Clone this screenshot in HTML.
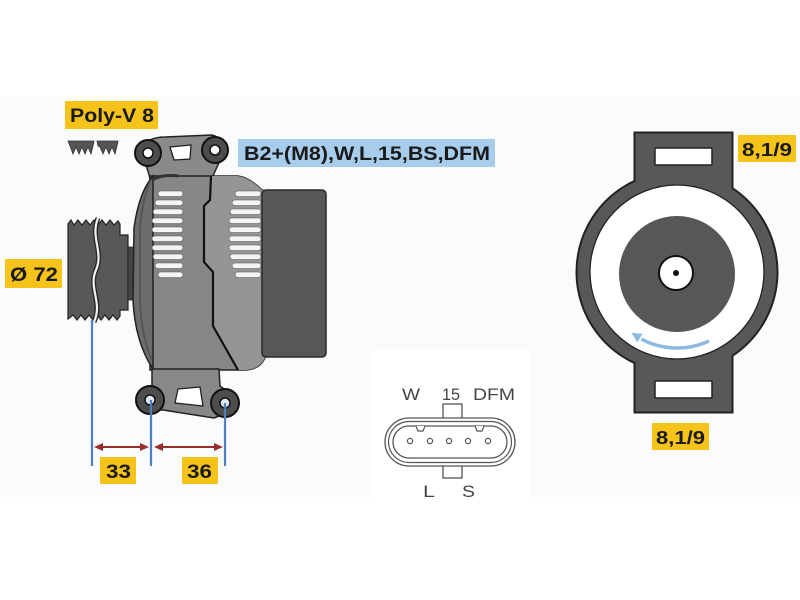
<!DOCTYPE html>
<html><head><meta charset="utf-8">
<style>
html,body{margin:0;padding:0;background:#fff;}
svg{display:block;}
.lb{font-family:"Liberation Sans",Arial,sans-serif;font-weight:bold;fill:#1a1a1a;}
.ln{font-family:"Liberation Sans",Arial,sans-serif;fill:#444;}
</style></head>
<body>
<svg width="800" height="600" viewBox="0 0 800 600" xmlns="http://www.w3.org/2000/svg">
<rect x="0" y="0" width="800" height="600" fill="#ffffff"/>
<rect x="0" y="97" width="800" height="400" fill="#fafbfc"/>
<rect x="372" y="350" width="158" height="150" fill="#ffffff"/>

<!-- Labels -->
<rect x="65" y="101" width="93" height="28" fill="#f6c31b"/>
<text class="lb" x="70" y="122" font-size="19" textLength="84" lengthAdjust="spacingAndGlyphs">Poly-V 8</text>

<rect x="238" y="139" width="257" height="28" fill="#a8cdec"/>
<text class="lb" x="244" y="160" font-size="19" textLength="246" lengthAdjust="spacingAndGlyphs">B2+(M8),W,L,15,BS,DFM</text>

<rect x="5" y="259" width="57" height="29" fill="#f6c31b"/>
<text class="lb" x="10" y="281" font-size="19" textLength="48" lengthAdjust="spacingAndGlyphs">Ø 72</text>

<rect x="100" y="457" width="36" height="27" fill="#f6c31b"/>
<text class="lb" x="106" y="478" font-size="19" textLength="25" lengthAdjust="spacingAndGlyphs">33</text>
<rect x="182" y="457" width="36" height="27" fill="#f6c31b"/>
<text class="lb" x="187" y="478" font-size="19" textLength="25" lengthAdjust="spacingAndGlyphs">36</text>

<rect x="738" y="135" width="58" height="27" fill="#f6c31b"/>
<text class="lb" x="742" y="156" font-size="18" textLength="50" lengthAdjust="spacingAndGlyphs">8,1/9</text>
<rect x="652" y="423" width="57" height="27" fill="#f6c31b"/>
<text class="lb" x="656" y="444" font-size="18" textLength="49" lengthAdjust="spacingAndGlyphs">8,1/9</text>

<!-- Poly-V belt icons -->
<path d="M68,141 L94,141 L93,146 L91,154 L88,147 L85,154 L82,147 L79,154 L76,147 L73,154 L70,146 Z" fill="#555" stroke="#333" stroke-width="0.8"/>
<path d="M97,141 L118,141 L117,146 L115,154 L112,147 L109,154 L106,147 L103,154 L100,147 L98,146 Z" fill="#555" stroke="#333" stroke-width="0.8"/>

<!-- Pulley -->
<path d="M68,224 L71,220 L74,225 L78,220 L82,225 L86,220 L90,225 L94,220 L98,225 L102,220 L106,225 L110,220 L114,225 L118,221 L120,224 L120,235 L128,235 L128,310 L120,310 L120,316 L117,320 L113,315 L109,320 L105,315 L101,320 L97,315 L93,320 L89,315 L85,320 L81,315 L77,320 L73,315 L68,319 Z" fill="#585858" stroke="#222" stroke-width="1.2"/>
<rect x="128" y="247" width="6" height="53" fill="#454545" stroke="#222" stroke-width="0.8"/>
<path d="M98,218 C90,238 104,252 96,270 C88,288 103,302 94,322" fill="none" stroke="#2a2a2a" stroke-width="5"/>
<path d="M98,218 C90,238 104,252 96,270 C88,288 103,302 94,322" fill="none" stroke="#f2f2f2" stroke-width="2.2"/>

<!-- Top bracket -->
<path d="M141,148 Q148,137 165,137 L212,135 Q224,138 222,156 L212,178 L150,178 Z" fill="#8a8a8a" stroke="#222" stroke-width="1.5"/>
<path d="M170,147 L191,145 L190,159 L174,160 Z" fill="#fff" stroke="#222" stroke-width="1.3"/>

<!-- Main body -->
<path d="M150,176 L238,176 Q250,178 262,190 L267,192 L267,345 Q267,369 245,370 L150,370 Z" fill="#878787" stroke="#222" stroke-width="1.5"/>
<path d="M212,176 L238,176 Q250,178 262,190 L267,192 L267,345 Q267,369 245,370 L238,370 L213,326 L213,272 L204,262 L204,206 L210,200 Z" fill="#959595"/>
<path d="M153,176 Q139,192 134,228 L133,300 Q135,342 153,369 Z" fill="#6c6c6c" stroke="#222" stroke-width="1.5"/>
<path d="M150,182 Q142,200 140,230 L140,300 Q141,335 152,360" fill="none" stroke="#555" stroke-width="2"/>
<path d="M152,180 Q162,174 178,176" fill="none" stroke="#333" stroke-width="3"/>

<!-- vent slots left -->
<g fill="#f4f4f4" stroke="#555" stroke-width="0.6">
<rect x="158" y="191" width="25" height="5.5" rx="2.7"/>
<rect x="155" y="200" width="28" height="5.5" rx="2.7"/>
<rect x="153" y="209" width="30" height="5.5" rx="2.7"/>
<rect x="152" y="218" width="31" height="5.5" rx="2.7"/>
<rect x="152" y="227" width="31" height="5.5" rx="2.7"/>
<rect x="152" y="236" width="31" height="5.5" rx="2.7"/>
<rect x="152" y="245" width="31" height="5.5" rx="2.7"/>
<rect x="153" y="254" width="30" height="5.5" rx="2.7"/>
<rect x="155" y="263" width="28" height="5.5" rx="2.7"/>
<rect x="158" y="272" width="25" height="5.5" rx="2.7"/>
</g>
<!-- vent slots right -->
<g fill="#f4f4f4" stroke="#555" stroke-width="0.6">
<rect x="235" y="191" width="26" height="5.5" rx="2.7"/>
<rect x="232" y="200" width="29" height="5.5" rx="2.7"/>
<rect x="230" y="209" width="31" height="5.5" rx="2.7"/>
<rect x="229" y="218" width="32" height="5.5" rx="2.7"/>
<rect x="229" y="227" width="32" height="5.5" rx="2.7"/>
<rect x="229" y="236" width="32" height="5.5" rx="2.7"/>
<rect x="229" y="245" width="32" height="5.5" rx="2.7"/>
<rect x="230" y="254" width="31" height="5.5" rx="2.7"/>
<rect x="232" y="263" width="29" height="5.5" rx="2.7"/>
<rect x="235" y="272" width="26" height="5.5" rx="2.7"/>
</g>

<!-- seam -->
<path d="M211,176 L210,200 L204,206 L204,262 L213,272 L213,326 L238,370" fill="none" stroke="#111" stroke-width="2.2"/>

<!-- rear cover -->
<rect x="262" y="190" width="64" height="167" rx="4" fill="#575757" stroke="#2a2a2a" stroke-width="1.5"/>

<!-- bottom bracket -->
<path d="M152,369 L219,369 L220,386 Q232,394 230,412 L214,418 L163,410 Q146,410 140,398 L152,386 Z" fill="#888" stroke="#222" stroke-width="1.5"/>
<path d="M178,389 L200,387 L203,406 L175,403 Z" fill="#fff" stroke="#222" stroke-width="1.3"/>

<!-- ears -->
<g stroke="#111" stroke-width="2">
<circle cx="148" cy="153" r="13" fill="#4d4d4d"/>
<circle cx="215" cy="150" r="13" fill="#4d4d4d"/>
<circle cx="150" cy="400" r="14" fill="#4d4d4d"/>
<circle cx="225" cy="403" r="14" fill="#4d4d4d"/>
</g>
<g stroke="#111" stroke-width="1.5">
<circle cx="148" cy="153" r="5" fill="#fff"/>
<circle cx="215" cy="150" r="5" fill="#fff"/>
<circle cx="150" cy="400" r="5" fill="#dfe8f4"/>
<circle cx="225" cy="403" r="5" fill="#dfe8f4"/>
</g>

<!-- dimension lines -->
<g stroke="#4f7fbf" stroke-width="2.2">
<line x1="92" y1="320" x2="92" y2="466"/>
<line x1="151" y1="400" x2="151" y2="466"/>
<line x1="225" y1="403" x2="225" y2="466"/>
</g>
<g stroke="#9b2d2d" stroke-width="2" fill="#9b2d2d">
<line x1="100" y1="447" x2="143" y2="447"/>
<path d="M94,447 L103,443 L103,451 Z" stroke="none"/>
<path d="M149,447 L140,443 L140,451 Z" stroke="none"/>
<line x1="160" y1="447" x2="216" y2="447"/>
<path d="M154,447 L163,443 L163,451 Z" stroke="none"/>
<path d="M223,447 L214,443 L214,451 Z" stroke="none"/>
</g>

<!-- connector -->
<text class="ln" x="402" y="400" font-size="17" textLength="18" lengthAdjust="spacingAndGlyphs">W</text>
<text class="ln" x="442" y="400" font-size="17" textLength="18" lengthAdjust="spacingAndGlyphs">15</text>
<text class="ln" x="473" y="400" font-size="17" textLength="42" lengthAdjust="spacingAndGlyphs">DFM</text>
<text class="ln" x="423" y="497" font-size="17" textLength="12" lengthAdjust="spacingAndGlyphs">L</text>
<text class="ln" x="462" y="497" font-size="17" textLength="13" lengthAdjust="spacingAndGlyphs">S</text>
<g fill="#fff" stroke="#555" stroke-width="1.3">
<rect x="443" y="404" width="19" height="16"/>
<rect x="443" y="464" width="19" height="14"/>
<rect x="385" y="418" width="130" height="48" rx="24"/>
</g>
<rect x="388.5" y="421.5" width="123" height="41" rx="20.5" fill="none" stroke="#555" stroke-width="1.2"/>
<rect x="393" y="426" width="114" height="32" rx="16" fill="#fff" stroke="#555" stroke-width="1.3"/>
<path d="M416,426 L418,431 L423,431 L425,426" fill="#fff" stroke="#555" stroke-width="1.2"/>
<path d="M475,426 L477,431 L482,431 L484,426" fill="#fff" stroke="#555" stroke-width="1.2"/>
<g fill="#fff" stroke="#555" stroke-width="1.2">
<circle cx="410" cy="441" r="2.6"/>
<circle cx="430" cy="441" r="2.6"/>
<circle cx="449" cy="441" r="2.6"/>
<circle cx="468" cy="441" r="2.6"/>
<circle cx="488" cy="441" r="2.6"/>
</g>

<!-- end view -->
<g fill="#222">
<circle cx="677" cy="272" r="101.5"/>
<rect x="633.5" y="131.5" width="100" height="82"/>
<rect x="633.5" y="333" width="100" height="80.5"/>
</g>
<g fill="#585858">
<circle cx="677" cy="272" r="99.5"/>
<rect x="635.5" y="133.5" width="96" height="80"/>
<rect x="635.5" y="333" width="96" height="78.5"/>
</g>
<rect x="655" y="148" width="57" height="17" rx="1" fill="#fff" stroke="#222" stroke-width="1.5"/>
<rect x="655" y="381" width="57" height="17" rx="1" fill="#fff" stroke="#222" stroke-width="1.5"/>
<circle cx="677" cy="272" r="87" fill="#fff" stroke="#222" stroke-width="1.3"/>
<circle cx="677" cy="274" r="58" fill="#575757"/>
<circle cx="676" cy="273" r="17" fill="#fff" stroke="#111" stroke-width="2"/>
<circle cx="676" cy="273" r="3" fill="#111"/>
<path d="M709.1,340.9 A76,76 0 0 1 641.3,339.1" fill="none" stroke="#8dbbe3" stroke-width="3.5"/>
<path d="M631.5,332.8 L642.6,333.9 L637.3,342.3 Z" fill="#8dbbe3"/>
</svg>
</body></html>
